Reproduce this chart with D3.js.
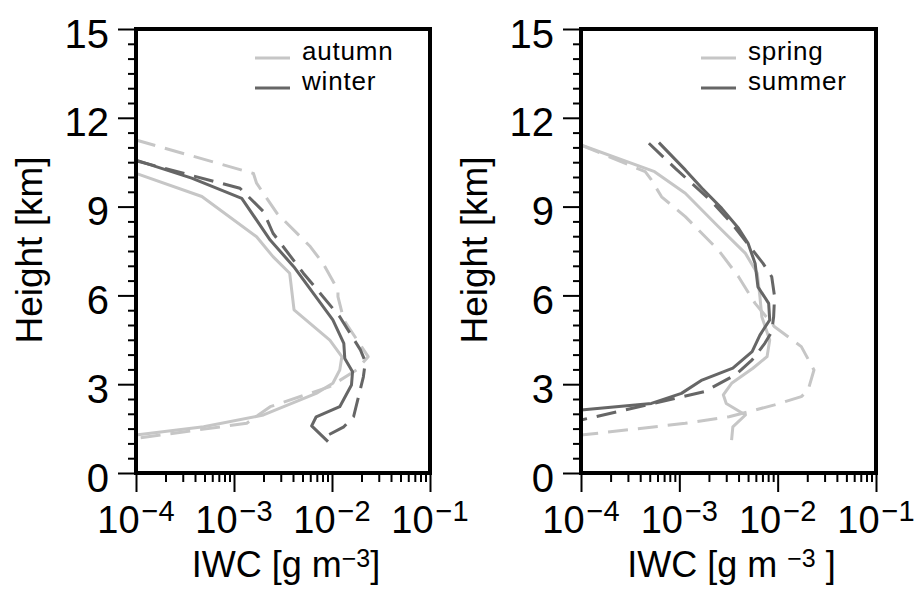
<!DOCTYPE html>
<html><head><meta charset="utf-8">
<script src="https://cdn.jsdelivr.net/npm/d3@7"></script>
<style>
body{margin:0;background:#fff}
svg{display:block}
text{font-family:"Liberation Sans",Arial,Helvetica,sans-serif;fill:#000}
</style>
</head><body>
<svg id="chart" width="919" height="590"></svg>
<script>
// ---------- data (IWC in g m^-3, height in km) ----------
const heightTicks = [0, 3, 6, 9, 12, 15];
const iwcTicks = [1e-4, 1e-3, 1e-2, 1e-1];
const iwcTickExponents = ["\u22124", "\u22123", "\u22122", "\u22121"];
const leftSeasons = ["autumn", "winter"];
const rightSeasons = ["spring", "summer"];

const autumnSolid = [[1.0e-4,10.12],[4.7e-4,9.34],[1.7e-3,7.98],[2.5e-3,7.31],[3.7e-3,6.75],[4.1e-3,5.51],[9.5e-3,4.49],[1.26e-2,3.93],[1.2e-2,3.48],[1.02e-2,3.03],[6.9e-3,2.69],[2.0e-3,1.96],[4.9e-4,1.56],[1.0e-4,1.28]];
const autumnDashed = [[1.0e-4,11.25],[1.58e-3,10.12],[1.7e-3,9.79],[2.75e-3,8.77],[6.0e-3,7.65],[8.1e-3,7.08],[1.15e-2,6.18],[1.15e-2,5.96],[1.32e-2,5.17],[2.34e-2,3.93],[1.78e-2,3.48],[9.5e-3,2.92],[2.34e-3,2.24],[1.35e-3,1.68],[1.0e-4,1.17]];
const winterSolid = [[1.0e-4,10.57],[3.7e-4,9.96],[1.2e-3,9.28],[2.34e-3,7.87],[4.07e-3,6.97],[1.02e-2,5.17],[1.32e-2,4.38],[1.35e-2,3.87],[1.62e-2,3.42],[1.58e-2,2.97],[1.2e-2,2.24],[6.9e-3,1.90],[6.2e-3,1.59],[9.1e-3,1.06]];
const winterDashed = [[1.0e-4,10.55],[1.15e-3,9.62],[2.0e-3,8.83],[2.5e-3,8.10],[5.1e-3,6.75],[1.2e-2,5.28],[1.95e-2,4.16],[2.19e-2,3.76],[2.09e-2,3.25],[1.66e-2,1.90],[1.32e-2,1.56],[9.1e-3,1.28],[9.1e-3,1.10]];

const springSolid = [[1.0e-4,11.08],[5.6e-4,10.18],[1.15e-3,9.45],[2.5e-3,8.32],[4.7e-3,7.42],[6.2e-3,6.75],[6.6e-3,5.96],[6.9e-3,5.28],[8.3e-3,4.49],[7.8e-3,3.93],[5.6e-3,3.54],[3.4e-3,3.03],[2.8e-3,2.64],[3.0e-3,2.35],[4.7e-3,1.96],[3.5e-3,1.56],[3.4e-3,1.11]];
const springDashed = [[1.0e-4,11.08],[4.5e-4,10.18],[5.2e-4,9.90],[6.6e-4,9.33],[1.15e-3,8.66],[2.5e-3,7.53],[4.0e-3,6.63],[5.9e-3,5.73],[9.3e-3,4.94],[1.74e-2,4.27],[2.34e-2,3.48],[2.04e-2,2.80],[1.74e-2,2.58],[9.3e-3,2.30],[3.2e-3,1.90],[1.15e-3,1.68],[1.0e-4,1.28]];
const summerSolid = [[6.2e-4,11.16],[1.15e-3,10.24],[1.7e-3,9.62],[2.7e-3,8.94],[4.0e-3,8.27],[5.0e-3,7.76],[5.9e-3,7.08],[6.3e-3,6.29],[8.1e-3,5.73],[8.3e-3,5.17],[6.6e-3,4.66],[5.5e-3,4.10],[3.5e-3,3.54],[1.7e-3,3.14],[1.05e-3,2.69],[5.2e-4,2.35],[1.0e-4,2.13]];
const summerDashed = [[4.9e-4,11.14],[9.1e-4,10.29],[2.14e-3,9.17],[3.4e-3,8.44],[7.1e-3,7.08],[8.7e-3,6.63],[9.3e-3,5.96],[9.1e-3,5.28],[8.7e-3,4.77],[7.4e-3,4.38],[5.5e-3,3.82],[3.7e-3,3.31],[1.8e-3,2.75],[9.1e-4,2.52],[1.0e-4,1.79]];

// ---------- styling ----------
const LIGHT = "#c6c6c6", DARK = "#666666";
const DASH = "20,10";

const svg = d3.select("#chart");
const y = d3.scaleLinear().domain([0, 15]).range([473, 29]);

const panels = [
  {x0: 136, x1: 430, seasons: leftSeasons,
   lines: [[autumnSolid, LIGHT, null], [autumnDashed, LIGHT, DASH], [winterSolid, DARK, null], [winterDashed, DARK, DASH]],
   spaced: false},
  {x0: 581, x1: 876, seasons: rightSeasons,
   lines: [[springSolid, LIGHT, null], [springDashed, LIGHT, DASH], [summerSolid, DARK, null], [summerDashed, DARK, DASH]],
   spaced: true}
];

const minorH = d3.range(0, 15.001, 0.5).filter(v => Math.abs(v % 3) > 1e-9);
const minorIWC = [];
[1e-4, 1e-3, 1e-2].forEach(d => { for (let k = 2; k <= 9; k++) minorIWC.push(d * k); });

panels.forEach(p => {
  const x = d3.scaleLog().domain([1e-4, 1e-1]).range([p.x0, p.x1]);
  const g = svg.append("g");

  // y axis minor
  g.append("g").attr("transform", `translate(${p.x0},0)`)
    .call(d3.axisLeft(y).tickValues(minorH).tickSize(8).tickFormat(""))
    .call(a => a.select(".domain").remove())
    .selectAll("line").attr("stroke-width", 2);
  // y axis major
  const ya = g.append("g").attr("transform", `translate(${p.x0},0)`)
    .call(d3.axisLeft(y).tickValues(heightTicks).tickSize(18).tickPadding(9).tickFormat(d3.format("d")))
    .call(a => a.select(".domain").remove());
  ya.selectAll("line").attr("stroke-width", 2);
  ya.selectAll("text").attr("font-size", 40).attr("dy", "0.45em")
    .style("font-family", '"Liberation Sans",Arial,sans-serif');

  // x axis minor
  g.append("g").attr("transform", `translate(0,${y(0)})`)
    .call(d3.axisBottom(x).tickValues(minorIWC).tickSize(9).tickFormat(""))
    .call(a => a.select(".domain").remove())
    .selectAll("line").attr("stroke-width", 2);
  // x axis major
  g.append("g").attr("transform", `translate(0,${y(0)})`)
    .call(d3.axisBottom(x).tickValues(iwcTicks).tickSize(19).tickFormat(""))
    .call(a => a.select(".domain").remove())
    .selectAll("line").attr("stroke-width", 2);
  // x tick labels with superscripts
  iwcTicks.forEach((v, i) => {
    const t = g.append("text").attr("x", x(v)).attr("y", 533)
      .attr("text-anchor", "middle").attr("font-size", 38);
    t.append("tspan").text("10");
    t.append("tspan").attr("font-size", 29).attr("dy", -12).attr("dx", 2).text(iwcTickExponents[i]);
  });

  // data lines
  const line = d3.line().x(d => x(d[0])).y(d => y(d[1]));
  p.lines.forEach(([data, color, dash]) => {
    g.append("path").datum(data).attr("d", line)
      .attr("fill", "none").attr("stroke", color).attr("stroke-width", 3)
      .attr("stroke-linejoin", "round")
      .attr("stroke-dasharray", dash);
  });

  // frame
  g.append("rect").attr("x", p.x0).attr("y", y(15))
    .attr("width", p.x1 - p.x0).attr("height", y(0) - y(15))
    .attr("fill", "none").attr("stroke", "#000").attr("stroke-width", 4);

  // legend
  p.seasons.forEach((s, i) => {
    const ly = 58 + i * 30;
    g.append("line").attr("x1", p.x1 - 175).attr("x2", p.x1 - 140)
      .attr("y1", ly).attr("y2", ly)
      .attr("stroke", i === 0 ? LIGHT : DARK).attr("stroke-width", 3);
    g.append("text").attr("x", p.x1 - 128).attr("y", ly + 2)
      .attr("font-size", 26).attr("letter-spacing", 0.8).text(s);
  });

  // axis titles
  g.append("text")
    .attr("transform", `translate(${p.x0 - 94},250) rotate(-90)`)
    .attr("text-anchor", "middle").attr("font-size", 37).text("Height [km]");

  const xt = g.append("text").attr("x", (p.x0 + p.x1) / 2 + 3).attr("y", 577)
    .attr("text-anchor", "middle").attr("font-size", 36);
  xt.append("tspan").text(p.spaced ? "IWC [g m " : "IWC [g m");
  xt.append("tspan").attr("font-size", 25).attr("dy", -10).text("\u22123");
  xt.append("tspan").attr("dy", 10).text(p.spaced ? " ]" : "]");
});
</script>
</body></html>
